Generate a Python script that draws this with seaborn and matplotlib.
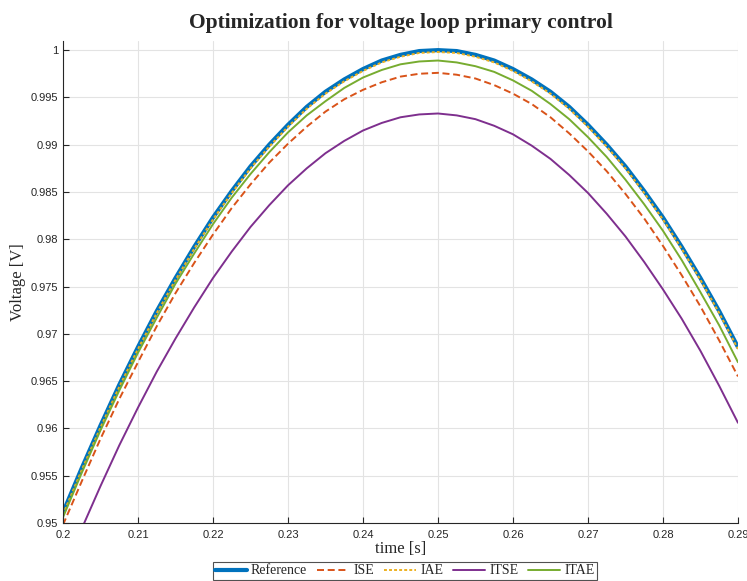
import matplotlib
matplotlib.use("Agg")
import matplotlib.pyplot as plt
from matplotlib.ticker import FuncFormatter
import pandas as pd
import seaborn as sns

# time samples [s]
time = [0.2 + 0.0025 * k for k in range(37)]

reference = [0.9511, 0.9558, 0.9603, 0.9646, 0.9686, 0.9724, 0.9759, 0.9792, 0.9823,
             0.9851, 0.9877, 0.9900, 0.9921, 0.9940, 0.9956, 0.9969, 0.9980, 0.9989,
             0.9995, 0.9999, 1.0000, 0.9999, 0.9995, 0.9989, 0.9980, 0.9969, 0.9956,
             0.9940, 0.9921, 0.9900, 0.9877, 0.9851, 0.9823, 0.9792, 0.9759, 0.9724,
             0.9686]
ise = [0.9498, 0.9544, 0.9589, 0.9631, 0.9670, 0.9708, 0.9743, 0.9775, 0.9805,
       0.9833, 0.9858, 0.9881, 0.9901, 0.9919, 0.9935, 0.9948, 0.9958, 0.9966,
       0.9972, 0.9975, 0.9976, 0.9974, 0.9970, 0.9963, 0.9954, 0.9943, 0.9929,
       0.9912, 0.9893, 0.9872, 0.9848, 0.9822, 0.9793, 0.9762, 0.9729, 0.9693,
       0.9655]
iae = [0.9509, 0.9556, 0.9601, 0.9644, 0.9684, 0.9722, 0.9757, 0.9790, 0.9821,
       0.9849, 0.9875, 0.9898, 0.9919, 0.9938, 0.9954, 0.9967, 0.9978, 0.9987,
       0.9993, 0.9997, 0.9998, 0.9997, 0.9993, 0.9987, 0.9978, 0.9967, 0.9954,
       0.9938, 0.9919, 0.9898, 0.9875, 0.9849, 0.9821, 0.9790, 0.9757, 0.9722,
       0.9684]
itse = [0.9446, 0.9494, 0.9539, 0.9582, 0.9622, 0.9660, 0.9695, 0.9728, 0.9759,
        0.9787, 0.9813, 0.9836, 0.9857, 0.9875, 0.9891, 0.9904, 0.9915, 0.9923,
        0.9929, 0.9932, 0.9933, 0.9931, 0.9927, 0.9920, 0.9911, 0.9899, 0.9885,
        0.9868, 0.9849, 0.9827, 0.9803, 0.9776, 0.9747, 0.9716, 0.9682, 0.9645,
        0.9606]
itae = [0.9506, 0.9553, 0.9598, 0.9640, 0.9680, 0.9717, 0.9753, 0.9785, 0.9816,
        0.9844, 0.9869, 0.9892, 0.9913, 0.9931, 0.9946, 0.9960, 0.9971, 0.9979,
        0.9985, 0.9988, 0.9989, 0.9987, 0.9983, 0.9977, 0.9968, 0.9957, 0.9943,
        0.9927, 0.9908, 0.9887, 0.9863, 0.9837, 0.9809, 0.9778, 0.9744, 0.9709,
        0.9670]

x_ticks = [0.2, 0.21, 0.22, 0.23, 0.24, 0.25, 0.26, 0.27, 0.28, 0.29]
y_ticks = [0.95, 0.955, 0.96, 0.965, 0.97, 0.975, 0.98, 0.985, 0.99, 0.995, 1.0]

sns.set_theme(style="whitegrid")
plt.rcParams["font.family"] = ["Liberation Sans", "DejaVu Sans"]

fig = plt.figure(figsize=(7.47, 5.81), dpi=100)
ax = fig.add_axes([0.0843, 0.0998, 0.9036, 0.8302])

# series: (name, values, colour, linewidth, dash pattern or None)
series = [
    ("Reference", reference, "#0072BD", 3.0, None),
    ("ISE", ise, "#D95319", 1.4, (3.6, 1.9)),
    ("IAE", iae, "#EDB120", 1.4, (1.5, 1.1)),
    ("ITSE", itse, "#7E2F8E", 1.4, None),
    ("ITAE", itae, "#77AC30", 1.4, None),
]
for name, vals, col, lw, dash in series:
    df = pd.DataFrame({"t": time, "v": vals})
    sns.lineplot(data=df, x="t", y="v", ax=ax, color=col, linewidth=lw, label=name)
    if dash is not None:
        ax.lines[-1].set_dashes(dash)

ax.set_xlim(0.2, 0.29)
ax.set_ylim(0.95, 1.001)
ax.set_xticks(x_ticks)
ax.set_yticks(y_ticks)
fmt = FuncFormatter(lambda v, p: ("%g" % round(v, 4)))
ax.xaxis.set_major_formatter(fmt)
ax.yaxis.set_major_formatter(fmt)
ax.tick_params(axis="both", direction="in", length=4, width=0.8, labelsize=8,
               colors="#262626", bottom=True, left=True)
ax.tick_params(axis="x", pad=5)
ax.tick_params(axis="y", pad=3.5)
ax.grid(True, color="#e3e3e3", linewidth=0.8)
ax.set_facecolor("white")
for side in ["top", "right"]:
    ax.spines[side].set_visible(False)
for side in ["left", "bottom"]:
    ax.spines[side].set_color("#262626")
    ax.spines[side].set_linewidth(0.8)

serif = ["Liberation Serif", "DejaVu Serif"]
ax.set_title("Optimization for voltage loop primary control", family=serif,
             fontsize=15.5, fontweight="bold", color="#262626", pad=9)
ax.set_xlabel("time [s]", family=serif, fontsize=12, color="#262626", labelpad=1)
ax.set_ylabel("Voltage [V]", family=serif, fontsize=12, color="#262626", labelpad=3)

if ax.get_legend():
    ax.get_legend().remove()
handles, labels = ax.get_legend_handles_labels()
leg = fig.legend(handles, labels, loc="upper center", bbox_to_anchor=(0.542, 0.032),
                 ncol=5, frameon=True, fancybox=False, edgecolor="#262626",
                 prop={"family": serif, "size": 10}, handlelength=2.3,
                 handletextpad=0.3, columnspacing=0.72, borderpad=0.15,
                 borderaxespad=0)
leg.get_frame().set_linewidth(0.8)

fig.savefig("out.png", dpi=100)
